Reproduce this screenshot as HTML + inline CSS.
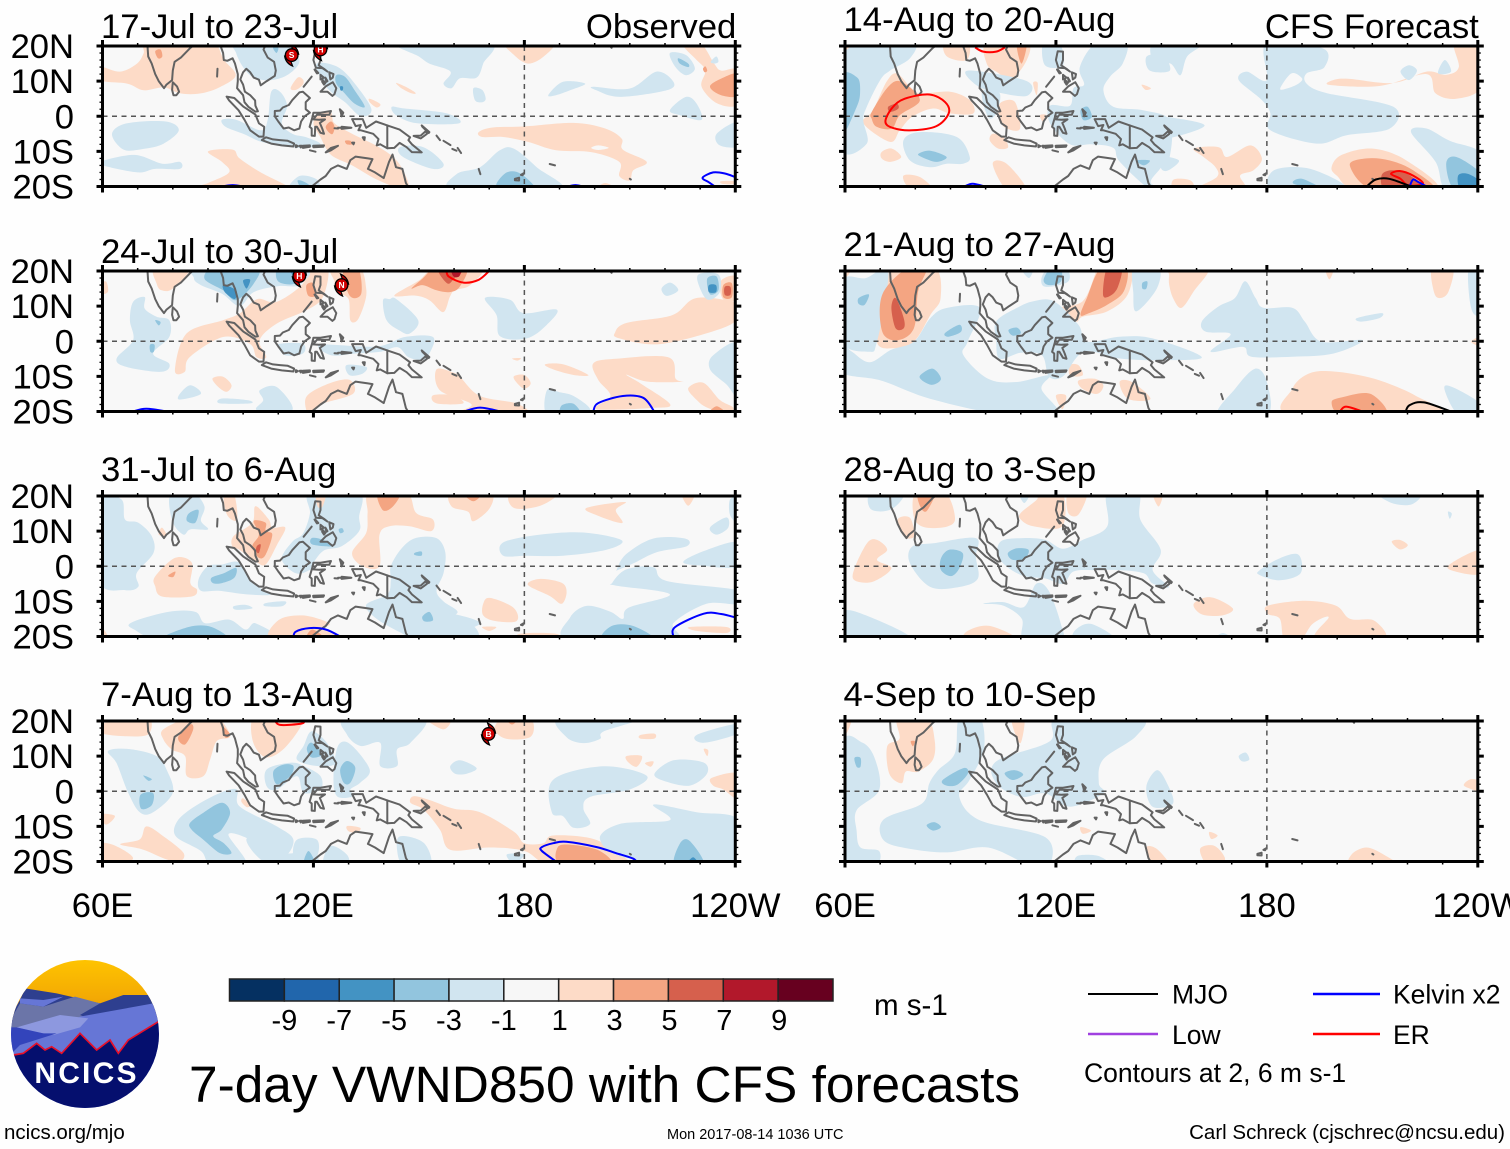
<!DOCTYPE html>
<html lang="en">
<head>
<meta charset="utf-8">
<title>7-day VWND850 with CFS forecasts</title>
<style>
html,body{margin:0;padding:0;background:#fefefe;width:1510px;height:1149px;overflow:hidden}
svg{display:block;font-family:"Liberation Sans",Arial,sans-serif}
</style>
</head>
<body>
<svg id="chart" xmlns="http://www.w3.org/2000/svg" width="1510" height="1149" viewBox="0 0 1510 1149">
  <rect x="0" y="0" width="1510" height="1149" fill="#fefefe"/>
  <g id="panels"></g>
  <g id="colorbar"></g>
  <text x="874" y="1015" font-size="29.5">m s-1</text>
  <text x="189" y="1102" font-size="51.4">7-day VWND850 with CFS forecasts</text>

  <g>
    <line x1="1088" x2="1158" y1="994" y2="994" stroke="#000" stroke-width="2"/>
    <text x="1172" y="1003.5" font-size="26.5">MJO</text>
    <line x1="1088" x2="1158" y1="1034" y2="1034" stroke="#a040e0" stroke-width="2.5"/>
    <text x="1172" y="1044" font-size="26.5">Low</text>
    <line x1="1313" x2="1380" y1="994" y2="994" stroke="#0000ff" stroke-width="2.5"/>
    <text x="1393" y="1003.5" font-size="26.5">Kelvin x2</text>
    <line x1="1313" x2="1380" y1="1034" y2="1034" stroke="#ff0000" stroke-width="2.5"/>
    <text x="1393" y="1044" font-size="26.5">ER</text>
    <text x="1084" y="1082" font-size="26.5">Contours at 2, 6 m s-1</text>
  </g>

  <text x="4" y="1139" font-size="20.5">ncics.org/mjo</text>
  <text x="667" y="1139" font-size="14.5">Mon 2017-08-14 1036 UTC</text>
  <text x="1505" y="1139" font-size="20.5" text-anchor="end">Carl Schreck (cjschrec@ncsu.edu)</text>

  <g>
    <defs>
      <clipPath id="logoClip"><circle cx="85" cy="1034" r="74"/></clipPath>
      <linearGradient id="sky" x1="0" y1="0" x2="0" y2="1"><stop offset="0" stop-color="#ffc400"/><stop offset="1" stop-color="#ec9a06"/></linearGradient>
    </defs>
    <g clip-path="url(#logoClip)">
      <rect x="10" y="959" width="150" height="62" fill="url(#sky)"/>
      <rect x="10" y="1020" width="150" height="90" fill="#6676d6"/>
      <g transform="translate(0,940) scale(0.33333)">
        <polygon fill="#2e3f8f" points="75,145 170,160 300,190 370,165 445,165 490,250 20,250 60,180"/>
        <polygon fill="#6b75a8" points="20,260 60,190 130,200 225,170 300,190 240,225 265,235 50,265"/>
        <polygon fill="#6676d6" points="60,175 130,180 190,170 130,200 60,190"/>
        <polygon fill="#6676d6" points="240,230 460,190 490,250 400,300 350,345 300,335 240,280 180,340 100,310 40,345 60,310 170,280"/>
        <polygon fill="#8d98df" points="50,262 180,225 265,235 240,262 160,285 100,275"/>
        <polygon fill="#3344bb" points="20,262 50,262 130,280 170,280 60,315 30,345"/>
        <polygon fill="#050f6e" points="40,345 70,340 110,310 135,330 155,320 185,340 240,280 290,330 330,300 355,340 385,300 475,245 490,510 0,510 0,345"/>
        <polyline fill="none" stroke="#e8102a" stroke-width="5" points="40,345 70,340 110,310 135,330 155,320 185,340 240,280 290,330 330,300 355,340 385,300 475,245"/>
      </g>
    </g>
    <text x="86.5" y="1083" font-size="30" font-weight="bold" fill="#fff" text-anchor="middle" letter-spacing="2.2">NCICS</text>
  </g>
</svg>

<script>
/* ===== Axis data ===== */
const lonMajorTicks = [60, 120, 180, 240];
const lonTickLabels = ["60E", "120E", "180", "120W"];
const latMajorTicks = [20, 10, 0, -10, -20];
const latTickLabels = ["20N", "10N", "0", "10S", "20S"];

/* ===== Colour scale ===== */
const scaleColors = ["#053061","#2166ac","#4393c3","#92c5de","#d1e5f0","#f7f7f7","#fddbc7","#f4a582","#d6604d","#b2182b","#67001f"];
const scaleLabels = ["-9","-7","-5","-3","-1","1","3","5","7","9"];

/* ===== Coastlines (lon, lat) ===== */
const coastOpen = [
 [72.8,21,72.8,20,73,17,74,15,75,12,76,10,77.5,8,78.2,9,79.8,10.3,80,13,80.5,15.5,82.3,16.7,85,19.5,87,21],
 [93.5,21,93.6,20,94.3,18,94.5,16,95.5,15.8,97,16.5,97.7,15,98.5,12,98.5,10,98.3,8,100,6,100.4,4,101.5,2.7,103.5,1.3,104.2,1.4,103.5,3,103.4,4.5,102,6,100.5,7,100,9,99.2,10.5,100,12.5,100.9,13.5,102,12.5,103,11,104.5,10.4,105,8.8,106.7,10,109,11.5,109.3,13,108.8,15.5,107,16.7,105.8,19,106.5,20.5,108,21.5],
 [119.5,-21,119.5,-20,122,-18,123.5,-17,125,-15,127,-14,129.5,-15,130.5,-12.5,132,-11.5,135.5,-12,136.8,-12.2,135.5,-15,137.5,-16,140,-17.6,141.5,-13,142.5,-10.9,143.5,-14.5,145.3,-15,146.3,-19,147.5,-21],
 [141,-2.6,141,-9.1],
 [92.7,13.5,92.6,11.3],
 [117.2,8.4,119.5,11.3],
 [155,-5.5,156,-6.8],[157,-7,159,-8.2],[159.5,-9.3,160.7,-9.8],[161,-9,162,-10.5],
 [167,-15,167.5,-16.5],[187.2,-13.6,188.7,-14],[127,-3.3,130.5,-3.3],[126,-3.4,127,-3.5],
 [119,-9.7,120.6,-10.1],[204,20.4,204.8,19.5],[210,-17.8,210.3,-18]
];
const coastClosed = [
 [80,9.7,81.2,8.5,81.8,7,81,6,80.2,6,79.8,7.5],
 [95.3,5.6,97.5,5.2,100,2.8,103.5,0.5,104.5,-2,106,-3,105.8,-5.8,104.5,-5.8,102,-4,100.4,-1,98.7,1.7,96,4.5],
 [105.3,-6.8,106.5,-6,108.5,-6.6,110.5,-6.8,112.7,-7,114.5,-7.8,114.3,-8.6,111,-8.3,108,-7.8],
 [115,-8.2,115.6,-8.5,115,-8.8],[116.1,-8.4,116.7,-8.4,116.4,-8.9],[117,-8.4,119,-8.3,119,-8.7,117,-9],
 [119.9,-8.4,123,-8.3,122.8,-8.7,120,-8.8],[123.5,-10.3,125,-9,127,-8.4,125,-9.7],
 [109,1.5,110.5,1.6,111.3,2.5,113,3.2,114,4.6,116,6.8,117,7,119,5.2,117.8,4,117.8,2,119,1,117.5,0,116.5,-1.5,116,-3.5,114.5,-4,113,-3.2,111.5,-3.5,110,-1.5,109,0],
 [120,1,122,1,125,1.5,124.5,0.4,121,0.4,120,-0.9,121.5,-1,123.3,-0.9,121.8,-1.9,122.5,-3.5,123,-5,122,-4.7,121,-3,120.5,-3,120.4,-5.6,119.5,-5.5,119.5,-3.5,118.9,-3,119.8,0],
 [120.5,18.5,122,18.4,122,16,121.5,14.5,123,13.5,124,12.7,122.5,13.7,120.7,13.8,120,16],
 [120.5,13.3,121.4,12.3,121,12.2,120.3,13.3],[124.5,12.5,125.7,12,125.5,11,124.8,10.5],[122,11.8,123,11,122,10.5],[122.5,10.5,123.4,9.5,123,9,122.5,9.8],[123.4,11,124,10,123.7,9.8],
 [122,7,123.5,8.5,125.5,9.7,126.5,8,126,6.3,125.4,5.8,124,7],
 [127.5,2,128.5,1,128,0,127.8,1],[128,-3,130.8,-3.3,128,-3.6],
 [131,-0.8,134,-0.8,135,-3.3,137.8,-1.5,141,-2.6,144.5,-3.8,147.5,-6,147,-6.8,148,-8,150.8,-10.3,148,-10.2,146.5,-8.8,144.5,-7.6,143,-9,141,-9.1,139,-8,138,-8.3,138.5,-6.5,137,-5,133.5,-4,132.8,-4,133.5,-2.5,132,-2.8],
 [148.5,-5.6,150.5,-5.5,152,-4.2,152.3,-5,150.5,-6.3],[150.8,-2.6,153,-4.5,152.8,-4.8,151,-3],
 [177.3,-17.8,178.5,-17.5,178.5,-18.3,177.3,-18.2],[179,-16.7,179.8,-16.2,179.5,-16.8],[134,-6,134.6,-6,134.5,-6.8],[131,-7.5,131.6,-7.5,131.4,-8]
];

/* ===== Filled anomalies: [band, [lon,lat,...]] band -4..-1 blue, 1..4 red, 0 neutral ===== */
const fillObs1 = [
 [1,[72.7,21,85,21,91.7,21,94.6,16,97.9,11.7,93.6,8.4,87.9,6.5,82.2,6.5,77.4,8.2,71.7,7.4,67,9.3,59,10.3,59,14.1,65,12.7,69.8,15,71.7,17.9]],
 [1,[120,-2,122,1,125,1,126,-2,131,-5,139,-9,144,-13,147,-19,146,-21,138,-18,131,-14,125,-11,122,-6]],
 [1,[90,-10,97,-9.5,99,-12,105,-16,114,-21,104,-21,85,-21,90,-19,96,-16,94,-13]],
 [1,[113.5,8,115.5,11,117,10.5,117,9,115,7.5]],
 [1,[136,5,139,3.5,138,2.5,136,4]],
 [1,[143.5,9.5,146,8.5,149,6.7,148,6.5,145,8]],
 [1,[167,-4.5,171,-3.2,180,-2.9,194,-1.9,203,-3.5,207.7,-6.4,208,-9.5,214.8,-13,211,-15.4,210,-18.3,207,-17,207,-13,199,-10.2,189,-9.7,181,-7.3,174,-5.9,168,-5.9]],
 [0,[199,-9,201,-8.3,204,-9,201,-9.6]],
 [1,[175,21,188,21,185.5,17,181,15,177,17.5]],
 [1,[225,21,230,21,234,15,236,13,241,13,241,3.6,235,3.6,230.4,8.4,231.5,13,229,16,226,19]],
 [2,[232.8,8.5,236.6,11,241,12,241,6,236,6]],
 [2,[230.8,13.5,231.5,14.2,232,13,231.3,12.5]],
 [1,[200.5,-21,203,-19,206.5,-21]],
 [1,[236,-18.5,241,-18.5,241,-19.3,236.5,-19.3]],
 [2,[75,18.5,76.5,19,77,17,75.8,16.5]],
 [2,[123.5,-3,125,-1.5,126,-3,125.5,-5,124.5,-4.7]],
 [2,[129,-7,130.5,-7,131,-8,129.5,-8]],
 [-1,[98,21,112,21,116,16,113,12,108,10.3,103,11,100,14,98,18]],
 [-2,[108.5,19.5,110,19.5,109.5,18]],
 [-1,[121,15,127,14,132,9,136.5,2,133.5,0,129,4,125.5,6.5,122.5,10]],
 [-2,[126.5,11.7,129,11.2,131.7,7.4,134.6,2.7,131.7,3.6,128.9,6.5,126.5,9.3]],
 [-3,[127.6,8.5,128.4,8.4,128.3,7.4,127.7,7.4]],
 [-1,[94,-1,98,-1,105,-4,107,-1,108,7,110.5,7,112.5,3,111,-2,114,-5,118,-6,122,-8,116,-9,106,-7.5,100,-5,95,-3]],
 [-1,[62.7,-5,67,-2,78,-1.5,81.7,-4,77.4,-7.8,71.7,-9.3,66,-9.5]],
 [-1,[59,-13,69,-11,77,-13.5,82,-13,82,-15,75,-15,70,-16,60,-14]],
 [-1,[113,-21,116,-17,121,-18,121,-21]],
 [-2,[115.5,-18.3,118,-19,120,-21,117,-21]],
 [-1,[144,21,170,21,168.3,15,166.4,11,161.7,10.8,159.3,8,157,9.3,159,12.7,153,15,150,17]],
 [-1,[165.5,8,168,7.5,169,5,168,4,166,4.5]],
 [-1,[142.3,2.7,146,2.2,158,.8,161.5,-2,149.5,-2,143.5,.3]],
 [-1,[144.6,-8.8,151.3,-8.8,157,-13.5,154,-15,145.5,-11.6]],
 [-1,[160,-21,160.8,-16.4,167.4,-14.5,173,-9.7,177,-9.2,183.5,-14.5,190,-21]],
 [-2,[172,-19.5,175,-16,179,-16.4,183,-21,174,-21]],
 [-1,[199.6,8.4,210,7.9,217.6,12.7,222.4,9.8,220.5,7.4,207.2,5.5,200.5,7.4]],
 [-1,[186.8,6,191,9.8,197.3,9.3,193,7.4,189,6]],
 [-1,[221.4,1.7,226,5.5,229,3.6,230.4,-1,224.3,.3]],
 [-1,[221.4,18,226,17.4,228.5,13.6,226,11.7,223,14]],
 [-2,[223.8,16.5,226.6,15,226.6,14,224.2,15]],
 [-1,[234.7,-5,241,-1.6,241,-8.3,235.6,-8.3]],
 [-1,[233,15.5,234.6,17,235.2,15.5,234,15]]
];
const fillObs2 = [
 [1,[74.9,21,84.8,21,80,15,76.8,14.5,75.4,16.4]],
 [1,[59,16,61,17,61.5,14,59,13.5]],
 [1,[80.6,-8.3,83.9,2.2,94.3,6,99,7.9,104,12,109.5,11.2,117,16.4,117.5,21,124,21,122.7,12.6,118,8.8,109.5,5,104.7,.3,106.6,-4.5,103.8,-4.5,101.9,-.7,94.3,1.2,84.8,-4.5,83.4,-8.7]],
 [2,[118,16,120,16.5,120.5,13,118.5,13]],
 [1,[125,21,133,21,135,15,134.5,10.7,132.5,6,130.5,6,130,12,127,14,126,17]],
 [2,[128.4,21,132.7,21,133.6,13.5,130.3,13]],
 [1,[143,13,150,17.3,155,21,168,21,164.5,15.9,160.2,14.5,158.8,12.6,156.9,8.3,153,11.7,149,13]],
 [2,[147.9,15,151,17.8,155,21,163.5,21,161.6,15.5,158.8,14,155,14.5,151,16]],
 [3,[155.5,21,163,21,160,17.8,158,16.5]],
 [4,[159.2,21,162,21,161.5,18.5,159.8,18.5]],
 [1,[91.3,-10.6,94.3,-10.1,96.7,-12.5,95.3,-14.4,92.9,-13]],
 [1,[118,-15.8,124.5,-12,130.3,-11,131.3,-14.9,122.8,-17.7,120,-19.6,118.5,-21]],
 [1,[154,-15.4,159.7,-15.4,162.6,-17.7,155,-17.7]],
 [1,[155,-8,160,-9,162,-10.5,167.4,-15.6,178,-17.8,180,-21,160,-21,165,-18,156,-14]],
 [1,[177,-10,180,-9.6,181.8,-12,180,-13.5,178,-12]],
 [1,[176.5,-4.9,179,-4.8,178,-5.5]],
 [1,[185.9,-6.6,191.1,-6.6,198.2,-9.6,194,-9.6,188.2,-8]],
 [1,[199.6,-6.3,206,-5,221,-4.6,223,-10.6,225,-11.5,215,-11.5,209,-9.5,213,-12,221.5,-18,216,-19,205,-19.5,200,-19,204.5,-15.6,201,-11]],
 [1,[226.6,-13.4,230.9,-11.8,235.6,-16.7,239.4,-18.9,238,-20.5,232,-18.9,229,-16.7]],
 [2,[232.3,-21,234.7,-18.5,237.5,-21]],
 [1,[205.8,2.5,209,5.2,222,7.4,229,12.3,241,10.7,241,7,236,3.6,218.6,-.8,207,.8]],
 [1,[236,17.3,241,18.4,241,12,236.5,12]],
 [2,[236.6,16,239,16.5,239,12.5,236.6,12.5]],
 [3,[237,15.5,238.6,15.5,238.6,13.2,237,13.2]],
 [-1,[86,18,88,21,117,21,116,16,110,15.7,103,14,99,10,94,13.5,88,16]],
 [-2,[89,17.8,92,21,104,21,103,16.4,98,11.7,94.3,14.5]],
 [-2,[110,21,116,21,115,16.5,110,17]],
 [-3,[94.4,16,98,14.5,97.6,12,94.8,14]],
 [-3,[100,17.3,102,17.5,101,15]],
 [-3,[112.5,21,116,21,115.5,18]],
 [-4,[114.5,21,116,21,115.5,19]],
 [-1,[68.7,11.2,72,12.6,72,9.3,75.4,7,79,6,79,1.2,74.4,-3.5,79,-6.4,76.8,-8.7,66.8,-7.3,64,-4.9,68.7,.3,67.8,6]],
 [-2,[75,6,76.5,5.5,76,4.5]],
 [-2,[73.5,-1,74.8,-1,74.6,-3,73.6,-3]],
 [-1,[82,-15,85,-12.5,88,-15,82,-16.6]],
 [-1,[104.7,-14,109.5,-13,114,-19.6,104,-19.6,105.7,-16.8]],
 [-1,[94,-16.3,101.4,-16.8,102,-17.7,93.4,-17.7]],
 [-1,[110.4,-.7,117,-.7,117,-3.5,112,-4,110,-1.7]],
 [-1,[139.8,11.7,141.7,12,143.6,12,149.8,6,147.4,2.2,144.6,3,140.8,6]],
 [-1,[122,-1,138,-1.5,146,1.2,154,1.2,153,-3.5,151,-5.3,147,-4.5,144,-1.7,139,-3,132,-3.5,125,-4]],
 [-1,[129.4,-6.8,135,-7.3,134,-9.2,130.3,-9.7]],
 [-1,[168.8,12.3,175.9,11.8,179.7,8,189.2,9,186.4,4.7,180.7,.8,173.1,1.4,172.1,7.4]],
 [-1,[219,15,221.5,16.7,223.8,14.5,220.5,12.9]],
 [-1,[229.5,19,235.2,19,235.6,14,232.3,11.8,230,15]],
 [-2,[232,17.8,234.7,18.4,235.2,14.5,232.8,13.4]],
 [-3,[232.5,16,234.5,16,234.5,14,232.5,14]],
 [-1,[233.7,-4,241,-.8,241,-15.6,237.5,-12.3,232.8,-8]],
 [-1,[186.4,-14,190,-14.5,194,-15.6,198.7,-19.4,194,-21,186.4,-21]],
 [-2,[190.6,-18.3,194,-17.8,196,-21,190.6,-21]]
];
const fillObs3 = [
 [-1,[59,19,65.4,19,66.4,13.3,70.2,12.4,74,8.6,74.5,3.8,69.7,-2,70.2,-5.8,66.4,-6.8,59,-4]],
 [-1,[79,19.5,82,21,86,21,89,17,88,13,90,10.5,85,10.5,83,9,80,12.5]],
 [-2,[84.5,15,87.3,16,86.4,12.4,84,12.9]],
 [-1,[87.3,-3.8,90,0,94,.5,99,1,103,-5,108,-8,101,-8,93,-7,88,-7]],
 [-2,[91,-3.3,94.5,-2,98,-.5,97.5,-3.3,94,-4.8,91.4,-4.8]],
 [-1,[111,2,114,7,117,9.3,119,15,119,21,133,21,133,14,133,10,128,5.7,123,4.5,120,1,119,-1,115,-2]],
 [-2,[119.5,8,122.5,7.6,125.4,5.7,119.7,6.2]],
 [-2,[127.2,10.5,128.2,10.8,128.6,9.8,127.6,9.4]],
 [-1,[142,0,145,5,149,8,155,8,157.5,4,157,-2,155,-7,157,-10,161,-13,158,-15.5,165,-16.5,166,-21,150,-21,145,-19,138,-15,135,-11,141,-8,142,-4]],
 [-2,[148.8,3.8,150.7,4.2,150.7,3,148.8,3.2]],
 [-2,[151,-14.3,153,-13,154,-15.4,151.6,-15.7]],
 [-1,[68.3,-16,78.7,-13,86.4,-13,89.2,-16.2,96,-15.2,100.7,-18,103.5,-16.2,108.3,-21,78,-21,69,-18]],
 [-2,[77,-21,84.5,-17.3,91,-17.3,95,-21]],
 [-1,[97.3,-11.4,100.7,-11,102.6,-12,98,-12.4]],
 [-1,[106.4,-10.5,112,-10,111,-11.4,106.4,-11.4]],
 [-1,[174,6.8,184.5,9,196.8,9.6,207.7,7.4,203.4,4.7,191,3,180.7,3,174,3]],
 [-1,[192.5,-21,193,-14.6,197.7,-11.3,204.4,-12.9,208,-15,209.6,-11.8,221.4,-8,206,-5.5,205,-4.7,209,-.9,216.7,-.3,220.5,-4.2,241,-6.9,241,-10.7,231.8,-10.7,222.4,-16.2,222.4,-21]],
 [-1,[206.3,-.9,209,3.5,216.7,7.9,225.7,7.9,226.2,5.7,217.6,4,211,.8,207,-.9]],
 [-1,[225.2,1.3,231.8,4.6,241,6.8,241,0,230,.2]],
 [-1,[232.8,11,237.5,13.9,238,11,234.7,9]],
 [-1,[238.5,19,241,19,241,12.3,238.5,14.6]],
 [-2,[202.5,-21,204.8,-17,211,-17,216.7,-21]],
 [1,[75,-2.9,80.7,2.4,85.4,1,85,-4.8,86.9,-6.7,85.4,-8.6,76.9,-8.6,75,-5.7]],
 [2,[78.8,-2.5,80.7,-1.5,80.2,-3,79,-3]],
 [1,[59,-16.3,62,-21,59,-21]],
 [1,[108.3,-21,110,-15.4,117,-14,124.5,-16.2,123,-18,128.3,-21]],
 [2,[118,-21,119.7,-18,123.5,-21]],
 [1,[94.5,21,97.3,21,98.3,13.3,95.4,14.7]],
 [1,[97.3,8.6,102.6,12.4,103.5,17.1,107.3,13.3,108.3,11,112,11,109.7,6.2,106.4,.5,103.5,1.4,98.8,4.8,96.9,5.7]],
 [2,[103,12.9,106.4,12.4,106.4,10,108.3,9,106.4,3.3,104.5,2.4,102.6,5.7,104.5,9]],
 [3,[103.9,5.7,105,6.2,104.5,3.8,103.7,4.3]],
 [1,[135.9,21,146.4,21,149.2,15.2,154,13.3,153.5,10,147.3,11.4,141.6,11.4,138.8,9,138.8,0,134,0,131,3.8,135,9.5,135.4,15.2]],
 [2,[138.3,21,144.5,21,142.6,17,139.7,16]],
 [1,[120.7,21,123.5,21,122.6,17,121.2,17]],
 [1,[76.9,11,78.3,8.6,76,9]],
 [1,[159.3,21,170.2,21,170.2,16.6,165.5,12.8,164,15.5,159.3,17]],
 [2,[162.6,21,167.9,21,165.5,18.5]],
 [1,[176.4,21,189.2,21,184.5,17.2,177,16.6]],
 [1,[197.7,16.6,208.6,18.3,206,16,207.8,12.3,200.6,14.5]],
 [1,[224.7,21,228.5,21,226.6,17.2]],
 [1,[181,-5.3,184.5,-3.6,190.6,-4.7,192,-7.4,190.6,-10.7,187.3,-8.5]],
 [1,[168.3,-10.7,170.2,-9,176.9,-11.8,177.8,-15.6,171.7,-15.6,168.3,-14]],
 [1,[168,-17.3,172,-17.3,170,-18.4]],
 [1,[178.8,-19.2,189,-19.2,189,-21,178.8,-21]],
 [1,[227,-17.3,237.5,-17.3,237.5,-19,229,-18.4]],
 [-1,[156,-13.5,161.7,-14,167.4,-16.2,161.7,-18.4,156,-18.4]]
];
const fillObs4 = [
 [1,[59,19,72.5,21,73,16.2,65.9,15.7,59,16.7]],
 [1,[77.3,17.6,84.9,21,92.5,21,96.3,15.7,92.5,14.3,90.6,9,88.7,4.3,84,4.3,83.5,10,79.7,11.9,77.3,14.8]],
 [2,[81.5,15.3,84.9,19,85.8,17.6,83.5,13.3]],
 [2,[93.9,18.6,96.3,16.2,94.9,15.3]],
 [1,[102.9,21,109.6,21,117.2,21,112.4,12.9,106.7,9.6,102.9,13.8]],
 [1,[59,-15.1,63.8,-15.6,68.6,-19.4,59,-21]],
 [1,[72.5,-10,77.3,-12.8,83,-17.5,82,-20,78.2,-19.4,71.5,-16.6,65,-15.1,70.6,-13.7]],
 [1,[59,-6.6,63.5,-7,61,-9.5]],
 [1,[129.6,-9.9,133.3,-10.4,132.4,-11.8,130,-11.4]],
 [1,[148.5,-1.4,153,-2.5,160,-5,167.4,-6,177,-11.5,180,-14.8,185.4,-14.8,188.2,-12.6,200,-13.7,209,-19.2,210,-21,188,-21,180,-17,170,-16,159,-16.7,156,-11,151.4,-5.3,147.6,-3.3]],
 [2,[189.5,-15.9,194,-15.3,201.5,-17,204.4,-21,190.5,-21]],
 [1,[171.7,18.7,174,21,180,21,182.6,19.3,181.6,15.4,175,14.9,171.7,17]],
 [2,[174.5,21,178.3,21,176.5,19]],
 [1,[213,16,217,16.4,217,15,213,15]],
 [1,[209,10,213.4,10,212,7,209.6,8.2]],
 [1,[214.3,8,216.7,8.5,216,7]],
 [1,[231,12,232.3,11.7,232,10]],
 [1,[233.3,3.8,241,5,241,-2.2,236.6,.5,233.7,1.6]],
 [1,[151.8,21,159,21,157,17.6]],
 [1,[100,-2,102,-4,101,-4.5,99.5,-3]],
 [-1,[61.6,11.5,67.8,12,75.4,10,78.2,6.2,80,-.4,74.4,-6,70.6,-6,67.3,-.4,64,8]],
 [-2,[70.8,-1,74.4,-.5,74,-4,71,-5]],
 [-2,[71.6,4.5,74,3.5,73,3]],
 [-1,[81,-9,84.9,-5.2,92.5,-.9,98.2,.5,99,-4.3,109.6,-10,114.3,-13.8,111.5,-18.6,103.8,-16.7,102,-13.8,95.8,-12.3,101,-21,91,-21,88,-17,81,-13]],
 [-2,[84.9,-9,88.7,-6.1,93.9,-3.3,96.3,-6.1,93.9,-10.9,91.5,-12.8,94.4,-14.7,96.7,-17.6,93.4,-17.6,88.7,-13.8,85.4,-11]],
 [-1,[106.7,6.2,113.4,8.1,117.2,7.2,122,4.3,122,.5,117.2,-.4,115.3,4.3,109.6,.5,106.7,1.4]],
 [-2,[108.6,5.7,111.5,7.6,114.3,7.2,113.4,4.3,109.6,2]],
 [-1,[117.2,12.9,119.5,17.1,123.8,13.8,126.2,8,121,7.2,115.3,9]],
 [-2,[118.1,12,119.5,13.8,122.4,10.5,119.5,9.6]],
 [-1,[127,12.9,130.5,13.4,136,6.2,133.3,2.4,130.5,.5,131.4,-1.4,126.7,-1.4,125.7,4.3]],
 [-2,[127.6,6.2,129.5,8.6,131.9,6.7,130.5,2.4,128.6,2.4]],
 [-1,[129.5,21,151.3,21,147.6,13.8,143.8,11.9,143.8,7.2,139,7.2,139,13.8,133.3,12.9,129.5,16.2]],
 [-1,[100.9,-13.8,107.6,-12.8,112.4,-17.6,119,-16.7,121,-21,107.6,-21]],
 [-1,[115.3,-13.8,121,-13.8,121,-18.6,117.2,-21,114.3,-18.6]],
 [-2,[117.2,-21,118.6,-17,120.5,-21]],
 [-1,[124.8,-15.6,129.5,-18,129.5,-21,122.9,-21]],
 [-1,[144.7,-12.8,151.4,-14.7,153.3,-21,145.7,-21,143.8,-16.7]],
 [-1,[158.9,7.1,161.7,8.8,166.4,6.6,163.6,5,160.3,5]],
 [-1,[190.1,21,212.9,21,202.5,17,201.5,14.9,196.8,13.7,192,15.4]],
 [-1,[188.2,3.3,202.5,7.1,214.8,4.4,210,.5,198.7,-1.6,196.8,-4.9,198.7,-9.3,194,-10.4,191,-7.1,187.8,-6]],
 [-1,[217,4.9,222.4,8.8,230.9,8.2,231.9,4.9,227.1,1.6,220.5,2.7]],
 [-1,[216.7,-3.8,229,-6,241,-8.2,241,-21,210,-19.2,201.5,-13.7,207.2,-9.3,221.4,-8.2]],
 [-2,[222.8,-21,224.3,-14.8,227.1,-14.2,231,-21]],
 [-3,[226.2,-21,228,-18.8,229.5,-21]],
 [-1,[229,16,241,19.3,241,16.5,231,13.8]],
 [-1,[175,-18,180,-18,177,-20.5]]
];
const fillFcst1 = [
 [1,[59,21,64,21,59,16]],
 [1,[68,1.7,71.8,9.8,74.7,12.2,78.5,8.4,81.3,6.5,89.9,7,95.5,4.6,96.5,.8,89.9,.8,85,2.2,79,-.2,75.6,-4,72.8,-7.3,65.2,-2]],
 [2,[67.6,1.2,72.3,8.4,76,9.8,81.3,4.6,75.6,.3,73.3,-3.5,69,-3,67.6,-.7]],
 [3,[72.3,2.7,74.7,3.6,75.2,2.2,72.8,1.2]],
 [1,[70.4,-10.2,73.3,-9.2,76,-11.6,72.8,-13,70.4,-12]],
 [1,[76.6,-16.9,81.3,-17.3,85,-21,78.5,-20.5]],
 [1,[88.4,21,95,21,94.6,16,89,17]],
 [1,[100.3,21,111.7,21,111.7,16,107.4,10.8,103,12.7,100.3,15]],
 [2,[108.8,21,111.7,21,110.2,15]],
 [1,[102,-5,105,-5.9,106.4,-8.8,103.6,-9.2,101.2,-6.9]],
 [1,[104,3.6,108.3,4.1,109.8,-3.5,106,-3.5,104,-1.1]],
 [1,[115.4,.3,117.3,.3,116.4,-1.6]],
 [1,[102,-13.5,106,-13.5,111.7,-21,106,-21]],
 [1,[113.5,9.5,114.8,9.5,114.5,6]],
 [1,[144.4,9,147,8,145.5,7.5]],
 [1,[159.2,-9.2,166.3,-8.8,168.7,-11.6,175.3,-8.3,178.6,-12,176.2,-15.4,172.4,-16.9,173.4,-21,160,-21,165.8,-17.3,165.4,-14.5,162,-11.6]],
 [1,[153.5,-18,158.3,-18.3,159,-21,153.5,-21]],
 [1,[198.4,-14.5,201.3,-11,210.2,-9.2,219.7,-12.6,228.5,-21,206,-21,200,-17]],
 [2,[203.6,-14,208.4,-12,215,-12.6,221.6,-15.4,227.3,-21,210.2,-21]],
 [3,[212.6,-16.9,215.4,-15.4,220,-16.4,224.4,-21,214,-21]],
 [1,[233.4,21,241,21,241,8.4,233.9,5,228,6.5,225.4,12,212,8.6,198,8.9,198.6,10.2,203,10.7,216,9.5,225.4,12.7,231,11.8,234.6,14]],
 [-1,[59,16,67.1,21,79.5,21,78.5,16.5,72.8,13,70,10.3,66.2,2.7,65.2,-1.1,66.2,-7.8,59,-9.2]],
 [-2,[59,11.3,63.5,11,64.3,7,63.3,2.6,59,-5]],
 [-1,[76.6,-6.9,81.3,-4.5,91.8,-5.9,95.5,-11.6,93.6,-13.5,88.9,-13.5,84.2,-14.5,78.5,-12.6]],
 [-2,[80.9,-10.7,84.2,-9.8,88.9,-11.6,86,-13,81.8,-11.6]],
 [-1,[95,13,111.7,10,111.7,5.8,103,6.9,97.4,8.8]],
 [-1,[99,7,104,6.5,103,.8,100.7,-.2]],
 [-1,[116.4,21,121,21,122,14.5,116.9,14.5]],
 [-1,[126.8,14,131.6,21,140,21,139,15,135.4,11.3,133.5,7.4,136.3,2.7,144.8,1.7,152.4,-1.2,152.4,-11.4,149.6,-15,147,-19,152,-21,147,-21,138.2,-13,136.3,-9,130,-8,124,-8,118.3,-2,118.3,3,124,3,125,8,128,9]],
 [-2,[127,1.7,129,2.7,130.2,-.2,127.8,-1.1]],
 [-2,[143,-12.6,146.7,-12.6,145,-14]],
 [-1,[145.8,17,150.5,17.4,152.4,13,146.7,13]],
 [-1,[148,21,161.6,21,157.3,17,155.4,11.7,152.6,15,148,15]],
 [-1,[180,21,196,19.3,196.4,14,191.3,12.2,191.3,9.3,197,6.6,216,2.7,215,-3.5,202.7,-5.4,194.2,-7.8,181,-4,181,.8,178.6,4.6,172,10.3,174.3,12.7,180,10.3]],
 [0,[183.8,7.9,187,12.2,190,10.8,189,9.3,185.7,7.9]],
 [-1,[150,-.7,155,-.7,162.3,-2.6,155.6,-5.4,150,-5.9]],
 [-1,[150,-11.6,155,-12.6,152,-15.4,150,-15]],
 [-1,[182,-15.4,192.4,-15,202.8,-21,182,-21]],
 [-2,[187.6,-19.2,190,-17.8,196,-21]],
 [-1,[221,-4.5,225.4,-3.5,232,-7,241,-10.7,241,-21,231,-21,228,-13]],
 [-2,[231,-13.5,233.9,-11.6,241,-16.4,241,-21,233.4,-21]],
 [-3,[234.4,-16.9,237.2,-16.4,241,-18.8,241,-21,235.3,-21]],
 [-1,[218,12.7,220.4,14.5,222.7,13,220.4,10.3]],
 [-1,[228.7,12.2,230.6,16,232.4,12.7]]
];
const fillFcst2 = [
 [1,[69.1,-.1,71.5,12.3,73.2,21,85.5,21,87.2,12.3,84.3,7.5,79.6,-.1,73.8,-2]],
 [2,[70.6,2.7,70.6,13.3,77.9,21,83.2,21,80.8,14.2,79.6,3.7,75,.3]],
 [3,[73.2,9.5,74.4,12.3,76.7,6.6,76.7,3.7,74.4,3.7]],
 [1,[120.6,9.5,127.6,11.4,131.1,19,131.5,21,141,21,140.4,13.3,134.6,8.5,127.6,7,125.8,5.6,121.8,7.5]],
 [2,[127,7.5,128.8,12.3,132.9,21,140,21,139.3,14.2,134.6,10.4,129.4,8]],
 [3,[133.4,13.3,134.6,21,138.7,21,137.5,15.2,135.2,12.8]],
 [1,[152.2,19,152.2,21,163.3,21,159.2,14.2,155.7,9.5,153.3,12.3,152.2,16.2]],
 [1,[196.6,21,199,21,197.8,17.6]],
 [1,[227,21,232.9,21,231.7,14.2,229.4,12.3,227.6,13.8]],
 [1,[59,21,62,21,60,18]],
 [1,[126.4,-11.2,131.1,-10.7,133.5,-12.6,131.7,-15,127.6,-13.6]],
 [1,[124,-6.8,126.4,-6.8,127.6,-9.7,124,-9.7]],
 [1,[138.1,-11.6,141.6,-11.6,146.9,-16.4,140.5,-16.4]],
 [1,[120,-15.5,122.9,-15.5,121.8,-19.3]],
 [1,[187,-21,187.2,-13.6,191.9,-9.2,199,-8.6,210.6,-10.7,222.3,-15.5,228.2,-21]],
 [2,[198.4,-17.4,201.3,-16,209.5,-15,214,-21,201.3,-21]],
 [1,[238.1,-.1,241,1.3,241,-1.5]],
 [-1,[59,17,66,18,72,21,71.5,12,69,-.5,67,-3,59,0]],
 [-1,[59,-1.1,59,-8.8,70.3,-11.2,84.3,-16.4,105.4,-21,120.6,-21,115.9,-13.6,118.2,-9.7,108.9,-11.6,100.7,-10.7,93.7,-4,94.9,-.1,98.4,9.5,89,9.5,84.3,6.6,79.6,-.1,73,-2.5,67,-6,62,-3]],
 [-2,[88.4,2.3,92.5,4.7,93,2.7,89.5,1.3]],
 [-2,[81.4,-9.7,84.9,-7.8,87.3,-10.7,84.9,-12.4,82,-11.2]],
 [-2,[63.9,12.3,66.8,13.3,65.6,10.4,63.9,10.6]],
 [-1,[103,5.6,108.9,9.5,113.6,11.4,119.4,11.4,126.4,4.7,128.8,-.1,138.1,1.3,147.5,.8,161.5,-4.5,149.8,-5.4,138.1,-4.9,128,-3,122,-10,118,-10,116,-4,110,-3.3,104,-5,103,0]],
 [-2,[106.5,3.2,108.9,3.9,110,2.3,107.7,1.6]],
 [-1,[110,21,113.5,21,112.3,18]],
 [-1,[115.9,18,118.2,21,122.9,21,123.5,17,117,15.5]],
 [-2,[116.5,17.5,118.6,21,121.4,21,121.4,17,118,16]],
 [-1,[142.2,21,149.2,21,148.7,15,142.9,8.5,142,13.8]],
 [-2,[144.6,16.6,146,17,145.7,15,144.6,15]],
 [-1,[237.5,21,241,21,241,8.5,238.7,8,237.5,13.3]],
 [-1,[161.5,5.6,166.2,9.9,170.9,12.3,173.8,17.1,176.8,12.3,179.1,9.5,187.3,9.5,190.8,5.6,195.5,-.1,207.2,.3,199,-3.5,187.3,-4.4,175.6,-4.4,173.2,-1.6,164,-3,169.7,2,162.7,2.7]],
 [-1,[205.6,6.6,212.6,8,212,6.6,206.8,5.6]],
 [-1,[166.2,-21,170.9,-13.6,176.7,-7.8,180,-11.6,180,-21]],
 [-1,[230.5,-13.6,232.9,-13.1,241,-17.9,241,-21,234.5,-21]]
];
const fillFcst3 = [
 [1,[75,13.3,78.5,13.8,79.6,8.5,76.7,8.5]],
 [1,[80.2,21,88.4,21,91.3,13.8,89,11.3,82.6,11.1,79.6,14]],
 [2,[80.8,21,85.5,21,83.2,15.7,81.4,17]],
 [1,[110,15.2,114.6,19,115,21,121.8,21,121.8,11.4,113.6,11.4,110,13.3]],
 [1,[123.5,21,128.8,21,126.4,14.7,123.5,15.2]],
 [1,[147.5,21,150.4,21,149.2,17]],
 [1,[62.7,-.6,66.3,6.6,69.1,7.5,72,4.7,69.1,1.8,73.2,-.6,67.9,-4.4,62.7,-4]],
 [1,[215.5,7,217.8,7.5,220.1,6,217.8,4.8]],
 [1,[231.7,.3,241,4.7,241,-2,234,-1.6]],
 [1,[159.2,-10.7,164,-8.8,170.3,-12,167.4,-14,161.5,-13.7]],
 [1,[180.3,-11.2,190.8,-9.8,199.6,-11.2,203.7,-15,210.6,-15.5,213,-21,194,-21,197.6,-14.5,193,-16.4,189.6,-21,185,-21,183.7,-15,180.3,-13.6]],
 [1,[94.9,-18.4,101.3,-17,108.9,-21,94.9,-21]],
 [-1,[67.4,21,76.7,21,73.2,16.2,67.4,16.2]],
 [-1,[79.1,5.6,85.5,6.6,97.2,8,97.2,2.7,97.8,-3.5,92.5,-5.9,84.3,-5.9,78.5,.8]],
 [-2,[87.3,2.3,89.6,4.7,93.5,3.7,92.5,-.6,90.2,-2.8,87.3,-1.1]],
 [-1,[104.2,7,110.6,8,117,7.5,122,5,127.6,7.5,134.6,11.4,134.6,21,143.4,21,144,13.3,149.8,4.7,147.5,-1.1,152.2,-5.9,147.5,-4.9,145,-2,138.1,-1.1,131.1,-1.1,125,-1.5,122,-5,117,-3.5,110,-2.5,104,2]],
 [-2,[106.3,3.7,108.9,5.1,112.2,4.7,111.2,2.3,107.7,1.8]],
 [-1,[99.2,-10.7,105,-10.2,110.9,-11.6,114.4,-5,117.9,-6.9,121.4,-16.4,121.4,-21,110.9,-21,110.3,-15,105,-11.2]],
 [-1,[59,-13,66,-14,79,-21,59,-21]],
 [-1,[125.3,-18.4,130,-16.4,137,-21,126,-21]],
 [-1,[178,-1.1,183.7,2.3,189,3.3,189.6,-2,183.7,-4,177.9,-2.5]],
 [-1,[165,-21,167.5,-19,170.3,-21]],
 [-1,[211.8,21,223.5,21,221.2,17.6,215.5,18]],
 [-1,[231.5,15.5,232.6,15,232,13.5]],
 [-1,[109.5,21,112.6,21,111,18]]
];
const fillFcst4 = [
 [1,[59,21,62,21,60,16]],
 [1,[75,21,83.2,21,85.5,14.7,85,9,80.8,5.6,77.3,5.6,76.1,2.3,72.6,5,72,12.8,75.5,15]],
 [2,[78.7,14.2,79.9,14.2,79.3,12.8]],
 [1,[107.5,21,111,21,110,13.8,108.3,16.6]],
 [1,[127,-10.2,130,-11.2,127.6,-12.1]],
 [1,[163.6,-11.6,166,-12.6,164.2,-13.6]],
 [1,[145.7,-16,148.7,-16.4,152.2,-21,147.5,-21]],
 [1,[161,-16.4,165,-15.5,168,-18.8,167,-21,163,-21]],
 [1,[204.2,-17.9,208.3,-16,213,-17.9,216.6,-21,204.2,-21]],
 [1,[236,1.8,238,3.4,241,2.7,241,-.1,237.6,.8]],
 [-1,[59,12.8,65,13.8,68.6,9,69.7,.3,63.3,-5.4,63.3,-11.2,64.4,-16,69.7,-17,68.6,-21,59,-21]],
 [-2,[62.7,9.5,64.4,9.5,64.4,7,63.3,7]],
 [-1,[71,-8,81.9,-3.5,84,2.3,86.6,6.1,91.3,10.9,92.5,21,98.4,21,99.5,11.9,95.4,3.2,92.5,-1.6,98.4,-8.3,117,-13.1,118.2,-21,112.4,-21,100.7,-16,89,-17.4,78.5,-16.4,71,-14]],
 [-2,[87.8,3.2,93.7,6.6,95,5.1,92,1.9,88.9,1.6]],
 [-2,[83.2,-9.7,85.5,-8.8,87.3,-10.2,85,-11.2]],
 [-1,[103,8.5,118.2,14.2,120.6,21,143.9,21,142.8,15.7,133.4,9,132.2,2.3,133.4,-.6,124,-4.4,117,-.6,110,-1.6,103,2.3]],
 [-2,[105.4,5.1,108.3,6,110.7,4.7,107.7,3.2]],
 [-1,[145.7,1.3,148.7,6,151.6,2.3,153.3,-3.5,147.5,-4.4]],
 [-1,[126.2,-18.4,132,-18.4,135,-21,126.2,-21]],
 [-1,[172,10,174,11,175,9,173,8.5]]
];

/* ===== Wave-filtered contours: [kind, closed, [lon,lat,...]] ===== */
const contourObs1 = [
 ["kelvin",0,[92.7,-20.2,97,-19.6,101,-20.2]],
 ["kelvin",0,[191.6,-20.2,194.5,-19.6,197.5,-20.2]],
 ["kelvin",0,[234.5,-20.2,232.5,-18.8,230.7,-17.5,233.7,-16,237,-16.3,240,-17.3]]
];
const contourObs2 = [
 ["er",0,[157.8,20.5,158.5,18.4,162.7,16.7,167,17.5,170.2,20.2]],
 ["kelvin",0,[68.7,-20,72.5,-19.2,79,-20.1]],
 ["kelvin",0,[162.6,-20.1,167.4,-18.9,173.6,-20.1]],
 ["kelvin",0,[199.6,-20,201,-17.6,208,-15.6,213.8,-16.1,217,-20.1]]
];
const contourObs3 = [
 ["kelvin",0,[114.3,-20.1,115,-18.6,118.8,-17.6,123.5,-18,127.8,-20.1]],
 ["kelvin",0,[222.4,-20.1,222.9,-17.3,231,-13.5,236,-13.6,240,-14.6]]
];
const contourObs4 = [
 ["er",0,[109,20.4,110.5,18.9,116.7,19.3,117.2,20.4]],
 ["kelvin",0,[189.7,-20.5,185,-17,185,-15.9,188.2,-14.8,191.9,-14.4,200.6,-15.9,206,-17.6,211,-19.2,212,-20.5]]
];
const contourFcst1 = [
 ["er",1,[71.5,-1.5,73.5,2.5,77,5,84,6.2,88.5,4,89.5,.8,86,-2.8,79,-4,73.5,-3.3]],
 ["er",0,[97,19.6,99.3,18.4,103,18.4,105.5,19.6]],
 ["er",1,[215.3,-16.4,217.8,-15.6,221.6,-16.9,224.4,-19.2,220.2,-19.7,218,-17.8]],
 ["kelvin",0,[220.6,-20,221.6,-18,223,-18.7,225.4,-20]],
 ["kelvin",0,[94,-20,96.3,-19.2,99.8,-20]],
 ["mjo",0,[208.4,-20,211,-18,214.8,-17.8,221,-20]]
];
const contourFcst2 = [
 ["er",0,[200.8,-20,202.5,-18.6,207.2,-20]],
 ["mjo",0,[219.4,-20.2,220.6,-18.2,224.7,-17.4,232.9,-20.2]]
];
const contourFcst3 = [];
const contourFcst4 = [];

/* ===== Tropical cyclone symbols: [lon, lat, letter] ===== */
const stormsObs1 = [[113.8,17.4,"S"],[122,19,"H"]];
const stormsObs2 = [[116,18.6,"H"],[128,16,"N"]];
const stormsObs3 = [];
const stormsObs4 = [[169.8,16.3,"B"]];

/* ===== Panels ===== */
const panelTitles = [
 "17-Jul to 23-Jul","24-Jul to 30-Jul","31-Jul to 6-Aug","7-Aug to 13-Aug",
 "14-Aug to 20-Aug","21-Aug to 27-Aug","28-Aug to 3-Sep","4-Sep to 10-Sep"];
const panelFills = [fillObs1,fillObs2,fillObs3,fillObs4,fillFcst1,fillFcst2,fillFcst3,fillFcst4];
const panelContours = [contourObs1,contourObs2,contourObs3,contourObs4,contourFcst1,contourFcst2,contourFcst3,contourFcst4];
const panelStorms = [stormsObs1,stormsObs2,stormsObs3,stormsObs4,[],[],[],[]];

const NS = "http://www.w3.org/2000/svg";
const svgRoot = document.getElementById("chart");
const panelsGroup = document.getElementById("panels");
const colorbarGroup = document.getElementById("colorbar");
const contourColors = {mjo:"#000000",low:"#a040e0",kelvin:"#0000ff",er:"#ff0000"};
const descenderRe = /[gp]/;

function mk(tag, attrs, parent){
  const el = document.createElementNS(NS, tag);
  for (const k in attrs) el.setAttribute(k, attrs[k]);
  if (parent) parent.appendChild(el);
  return el;
}
function bandColor(b){ return scaleColors[5 + b]; }
function smoothPath(P, closed){
  const n = P.length;
  const get = i => closed ? P[(i+n)%n] : P[Math.max(0,Math.min(n-1,i))];
  let d = "M"+P[0][0].toFixed(1)+" "+P[0][1].toFixed(1);
  const last = closed ? n : n-1;
  for (let i=0;i<last;i++){
    const a=get(i-1),b=get(i),c=get(i+1),e=get(i+2);
    const c1=[b[0]+(c[0]-a[0])/6,b[1]+(c[1]-a[1])/6];
    const c2=[c[0]-(e[0]-b[0])/6,c[1]-(e[1]-b[1])/6];
    d+="C"+c1[0].toFixed(1)+" "+c1[1].toFixed(1)+" "+c2[0].toFixed(1)+" "+c2[1].toFixed(1)+" "+c[0].toFixed(1)+" "+c[1].toFixed(1);
  }
  return d+(closed?"Z":"");
}

function drawPanel(idx){
  const col = idx < 4 ? 0 : 1;
  const row = idx % 4;
  const left = col === 0 ? 102.5 : 845;
  const right = left + 632.8;
  const top = 46 + row*225;
  const bottom = top + 140.5;
  const xScale = lon => left + (lon-60)*(right-left)/180;
  const yScale = lat => top + (20-lat)*(bottom-top)/40;
  const project = flat => { const out=[]; for(let i=0;i<flat.length;i+=2) out.push([xScale(flat[i]),yScale(flat[i+1])]); return out; };

  const g = mk("g",{},panelsGroup);
  
  

  const clipId = "clip"+idx;
  const clip = mk("clipPath",{id:clipId},g);
  mk("rect",{x:left,y:top,width:right-left,height:bottom-top},clip);

  const bg = mk("rect",{x:left,y:top,width:right-left,height:bottom-top,fill:"#f8f8f8"},g);
  
  

  const body = mk("g",{"clip-path":"url(#"+clipId+")"},g);
  const rank = b => b===0 ? 1.5 : Math.abs(b);
  const ordered = panelFills[idx].slice().sort((a,b)=>rank(a[0])-rank(b[0]));
  for (const f of ordered){
    const p = mk("path",{d:smoothPath(project(f[1]),true),fill:f[0]===0?"#f8f8f8":bandColor(f[0])},body);
    
    
  }

  const eq = mk("line",{x1:left,x2:right,y1:yScale(0),y2:yScale(0),stroke:"#555","stroke-width":1.5,"stroke-dasharray":"5 4.5"},body);
  
  
  const dl = mk("line",{x1:xScale(180),x2:xScale(180),y1:top,y2:bottom,stroke:"#555","stroke-width":1.5,"stroke-dasharray":"5 4.5"},body);
  
  

  const coast = mk("g",{fill:"none",stroke:"#626262","stroke-width":2,"stroke-linejoin":"round","stroke-linecap":"round"},body);
  
  
  for (const c of coastOpen) mk("polyline",{points:project(c).map(q=>q[0].toFixed(1)+","+q[1].toFixed(1)).join(" ")},coast);
  for (const c of coastClosed) mk("polygon",{points:project(c).map(q=>q[0].toFixed(1)+","+q[1].toFixed(1)).join(" ")},coast);

  for (const c of panelContours[idx]){
    const p = mk("path",{d:smoothPath(project(c[2]),!!c[1]),fill:"none",stroke:contourColors[c[0]],"stroke-width":2},body);
    
    
  }

  for (const s of panelStorms[idx]){
    const cx=xScale(s[0]), cy=yScale(s[1]);
    const sg = mk("g",{},body);
    
    
    mk("path",{d:`M${cx-1} ${cy-11}Q${cx+6} ${cy-8} ${cx+7} ${cy-1}L${cx+2} ${cy-3}ZM${cx+1} ${cy+11}Q${cx-6} ${cy+8} ${cx-7} ${cy+1}L${cx-2} ${cy+3}Z`,fill:"#c00",stroke:"#000","stroke-width":1.2},sg);
    mk("circle",{cx:cx,cy:cy,r:6.3,fill:"#d00000",stroke:"#000","stroke-width":1.3},sg);
    const tx = mk("text",{x:cx,y:cy+3,"font-size":8.5,"font-weight":"bold",fill:"#fff","text-anchor":"middle"},sg);
    tx.textContent = s[2];
  }

  /* frame */
  const frame = mk("rect",{x:left,y:top,width:right-left,height:bottom-top,fill:"none",stroke:"#000","stroke-width":3},g);
  
  

  /* ticks */
  const ticks = mk("g",{stroke:"#000"},g);
  
  
  for (let lon=60; lon<=240; lon+=10){
    const major = lonMajorTicks.includes(lon);
    const len = major ? 6 : 3, w = major ? 3 : 1.5, x = xScale(lon);
    mk("line",{x1:x,x2:x,y1:top-len,y2:top,"stroke-width":w},ticks);
    mk("line",{x1:x,x2:x,y1:bottom,y2:bottom+len,"stroke-width":w},ticks);
  }
  for (let lat=-20; lat<=20; lat+=2){
    const major = lat%10===0;
    const len = major ? 6 : 3, w = major ? 3 : 1.3, y = yScale(lat);
    mk("line",{x1:left-len,x2:left,y1:y,y2:y,"stroke-width":w},ticks);
    mk("line",{x1:right,x2:right+len,y1:y,y2:y,"stroke-width":w},ticks);
  }

  /* title */
  const t = mk("text",{x:left-1.5,y:top-(descenderRe.test(panelTitles[idx])?15:8),"font-size":34.7},g);
  
  
  t.textContent = panelTitles[idx];

  /* y labels (left column only) */
  if (col===0){
    latMajorTicks.forEach((lat,i)=>{
      const l = mk("text",{x:74,y:yScale(lat)+12,"font-size":34.6,"text-anchor":"end"},g);
      
      
      l.textContent = latTickLabels[i];
    });
  }
  /* x labels (bottom row only) */
  if (row===3){
    lonMajorTicks.forEach((lon,i)=>{
      const l = mk("text",{x:xScale(lon),y:917,"font-size":34.6,"text-anchor":"middle"},g);
      
      
      l.textContent = lonTickLabels[i];
    });
  }
  /* column captions */
  if (idx===0 || idx===4){
    const c = mk("text",{x:right+1,y:38,"font-size":34.7,"text-anchor":"end"},g);
    
    
    c.textContent = idx===0 ? "Observed" : "CFS Forecast";
  }
}
for (let i=0;i<8;i++) drawPanel(i);

/* colour bar */
const cbLeft=229.5, cbTop=979, cbH=22, cbW=(833-229.5)/scaleColors.length;
scaleColors.forEach((c,i)=>{
  const r = mk("rect",{x:cbLeft+i*cbW,y:cbTop,width:cbW,height:cbH,fill:c,stroke:"#222","stroke-width":1.5},colorbarGroup);
  
  
});
scaleLabels.forEach((s,i)=>{
  const t = mk("text",{x:cbLeft+(i+1)*cbW+(s[0]==="-"?0:1),y:1030,"font-size":29,"text-anchor":"middle"},colorbarGroup);
  
  
  t.textContent = s;
});
</script>
</body>
</html>
